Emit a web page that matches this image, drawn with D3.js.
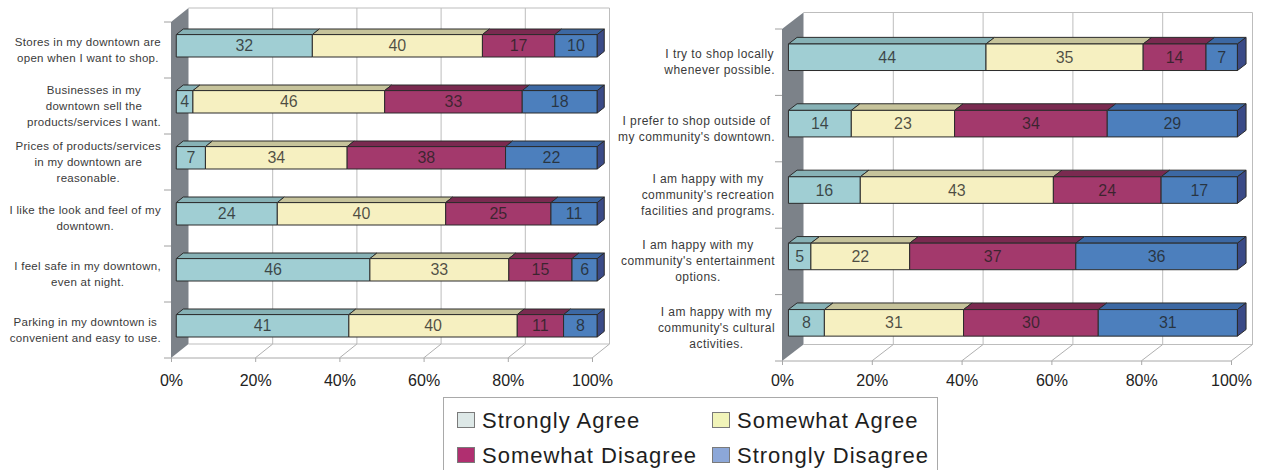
<!DOCTYPE html>
<html>
<head>
<meta charset="utf-8">
<script src="https://cdn.jsdelivr.net/npm/d3@7"></script>
<style>
  body { margin: 0; background: #fff; }
  svg { display: block; font-family: "Liberation Sans", Arial, sans-serif; }
</style>
</head>
<body>
<svg id="chart" width="1262" height="470"></svg>
<script>
// ---- data ----
const seriesNames = ["Strongly Agree", "Somewhat Agree", "Somewhat Disagree", "Strongly Disagree"];
const tickValues = [0, 0.2, 0.4, 0.6, 0.8, 1];
const tickLabels = ["0%", "20%", "40%", "60%", "80%", "100%"];

const downtownStatements = [
  ["Stores in my downtown are", "open when I want to shop."],
  ["Businesses in my", "downtown sell the", "products/services I want."],
  ["Prices of products/services", "in my downtown are", "reasonable."],
  ["I like the look and feel of my", "downtown."],
  ["I feel safe in my downtown,", "even at night."],
  ["Parking in my downtown is", "convenient and easy to use."]
];
const downtownStronglyAgree    = [32, 4, 7, 24, 46, 41];
const downtownSomewhatAgree    = [40, 46, 34, 40, 33, 40];
const downtownSomewhatDisagree = [17, 33, 38, 25, 15, 11];
const downtownStronglyDisagree = [10, 18, 22, 11, 6, 8];

const communityStatements = [
  ["I try to shop locally", "whenever possible."],
  ["I prefer to shop outside of", "my community's downtown."],
  ["I am happy with my", "community's recreation", "facilities and programs."],
  ["I am happy with my", "community's entertainment", "options."],
  ["I am happy with my", "community's cultural", "activities."]
];
const communityStronglyAgree    = [44, 14, 16, 5, 8];
const communitySomewhatAgree    = [35, 23, 43, 22, 31];
const communitySomewhatDisagree = [14, 34, 24, 37, 30];
const communityStronglyDisagree = [7, 29, 17, 36, 31];

// ---- colours ----
const frontColors  = ["#a0ced3", "#f6f0c1", "#a3396c", "#4c7fbd"];
const topColors    = ["#87b2b6", "#c6c39b", "#7a2a50", "#3c68a3"];
const sideColors   = ["#6e969a", "#a8a580", "#5e1f3e", "#3a4a87"];
const legendColors = ["#dde8e7", "#f1f4b9", "#b02f70", "#8ca7d8"];

const svg = d3.select("#chart");

function drawPanel(opt) {
  const { statements, values, x0, x1, yTop, yBot, dx, dy, labelRight, labelSize, labelSpacing } = opt;
  const n = statements.length;
  const g = svg.append("g");

  const x = d3.scaleLinear().domain([0, 1]).range([x0, x1]);
  const y = d3.scaleBand().domain(d3.range(n)).range([yTop, yBot])
    .paddingInner(0.6).paddingOuter(0.3);
  // oblique projection: z = 0 front plane, z = 1 back wall
  const P = (px, py, z) => [px + z * dx, py + z * dy];
  const poly = pts => pts.map(p => p.join(",")).join(" ");

  // back wall gridlines
  const gridColor = "#bdbdbd";
  tickValues.slice(1, -1).forEach(t => {
    const a = P(x(t), yBot, 1), b = P(x(t), yTop, 1);
    g.append("line").attr("x1", a[0]).attr("y1", a[1]).attr("x2", b[0]).attr("y2", b[1])
      .attr("stroke", gridColor).attr("stroke-width", 1);
  });
  // back wall border (top and right)
  const bt0 = P(x0, yTop, 1), bt1 = P(x1, yTop, 1), bb1 = P(x1, yBot, 1), bb0 = P(x0, yBot, 1);
  g.append("polyline").attr("points", poly([bt0, bt1, bb1]))
    .attr("fill", "none").attr("stroke", gridColor);
  // floor
  g.append("line").attr("x1", bb0[0]).attr("y1", bb0[1]).attr("x2", bb1[0]).attr("y2", bb1[1])
    .attr("stroke", gridColor);
  g.append("line").attr("x1", x0).attr("y1", yBot).attr("x2", x1).attr("y2", yBot)
    .attr("stroke", "#a8a8a8");
  tickValues.slice(1).forEach(t => {
    const a = P(x(t), yBot, 0), b = P(x(t), yBot, 1);
    g.append("line").attr("x1", a[0]).attr("y1", a[1]).attr("x2", b[0]).attr("y2", b[1])
      .attr("stroke", "#b0b0b0");
  });
  // left side wall
  g.append("polygon")
    .attr("points", poly([P(x0, yTop, 0), P(x0, yTop, 1), P(x0, yBot, 1), P(x0, yBot, 0)]))
    .attr("fill", "#7c8289");

  // category tick marks at band boundaries
  const step = (yBot - yTop) / n;
  d3.range(n + 1).forEach(k => {
    const yy = yTop + k * step;
    g.append("line").attr("x1", x0 - 7).attr("x2", x0).attr("y1", yy).attr("y2", yy)
      .attr("stroke", "#a0a0a0");
  });

  // stacked 3-D bars (percent of row total)
  const zf = 0.3, zb = 0.7;
  const bw = y.bandwidth();
  d3.range(n).forEach(i => {
    const row = values.map(s => s[i]);
    const total = d3.sum(row);
    let cum = 0;
    const yt = y(i), yb = y(i) + bw;
    row.forEach((v, s) => {
      const a = x(cum / total), b = x((cum + v) / total);
      cum += v;
      const bar = g.append("g").attr("stroke", "#2b2b2b").attr("stroke-width", 1)
        .attr("stroke-linejoin", "round");
      bar.append("polygon")
        .attr("points", poly([P(a, yt, zf), P(a, yt, zb), P(b, yt, zb), P(b, yt, zf)]))
        .attr("fill", topColors[s]);
      bar.append("polygon")
        .attr("points", poly([P(a, yt, zf), P(b, yt, zf), P(b, yb, zf), P(a, yb, zf)]))
        .attr("fill", frontColors[s]);
      if (s === row.length - 1) {
        bar.append("polygon")
          .attr("points", poly([P(b, yt, zf), P(b, yt, zb), P(b, yb, zb), P(b, yb, zf)]))
          .attr("fill", sideColors[s]);
      }
      const c = P((a + b) / 2, (yt + yb) / 2, zf);
      g.append("text").attr("x", c[0]).attr("y", c[1] + 5.5)
        .attr("text-anchor", "middle").attr("font-size", 16)
        .attr("fill", "#1f1f1f").attr("fill-opacity", 0.78)
        .text(v);
    });
  });

  // percentage axis along the front edge
  const axis = g.append("g").attr("transform", `translate(0,${yBot})`)
    .call(d3.axisBottom(x).tickValues(tickValues)
      .tickFormat((d, i) => tickLabels[i]).tickSize(4).tickPadding(386 - yBot - 4 - 11.4));
  axis.select(".domain").remove();
  axis.selectAll(".tick line").attr("stroke", "#a8a8a8");
  axis.selectAll("text").attr("font-size", 16).attr("fill", "#222")
    .attr("font-family", "\"Liberation Sans\", Arial, sans-serif");

  // statement labels: centred block, right-aligned to the wall
  d3.range(n).forEach(i => {
    const lines = statements[i];
    const cy = y(i) + bw / 2;
    const t = g.append("text").attr("font-size", labelSize).attr("fill", "#3a3a3a")
      .attr("letter-spacing", labelSpacing).attr("text-anchor", "middle");
    lines.forEach((ln, j) => {
      t.append("tspan").attr("y", cy + (j - (lines.length - 1) / 2) * 16 + 4).text(ln);
    });
    let maxW = 0;
    t.selectAll("tspan").each(function () { maxW = Math.max(maxW, this.getComputedTextLength()); });
    t.selectAll("tspan").attr("x", labelRight - maxW / 2);
  });
}

drawPanel({
  statements: downtownStatements,
  values: [downtownStronglyAgree, downtownSomewhatAgree, downtownSomewhatDisagree, downtownStronglyDisagree],
  x0: 171, x1: 592, yTop: 22, yBot: 358, dx: 17.5, dy: -14,
  labelRight: 161, labelSize: 11.5, labelSpacing: 0.3
});

drawPanel({
  statements: communityStatements,
  values: [communityStronglyAgree, communitySomewhatAgree, communitySomewhatDisagree, communityStronglyDisagree],
  x0: 782, x1: 1231, yTop: 29, yBot: 361, dx: 21.5, dy: -16.5,
  labelRight: 775, labelSize: 12, labelSpacing: 0.44
});

// ---- legend ----
const legend = svg.append("g");
legend.append("rect").attr("x", 443.5).attr("y", 397.5).attr("width", 494).attr("height", 80)
  .attr("fill", "#fff").attr("stroke", "#a9a9a9");
const legendCols = [457, 712], legendRows = [412, 447];
seriesNames.forEach((name, i) => {
  const lx = legendCols[i % 2], ly = legendRows[Math.floor(i / 2)];
  legend.append("rect").attr("x", lx + 0.5).attr("y", ly + 0.5).attr("width", 17).attr("height", 15)
    .attr("fill", legendColors[i]).attr("stroke", "#7a7a7a");
  legend.append("text").attr("x", lx + 25).attr("y", ly + 15.5)
    .attr("font-size", 22).attr("letter-spacing", 1).attr("fill", "#1e1e1e").text(name);
});
</script>
</body>
</html>
